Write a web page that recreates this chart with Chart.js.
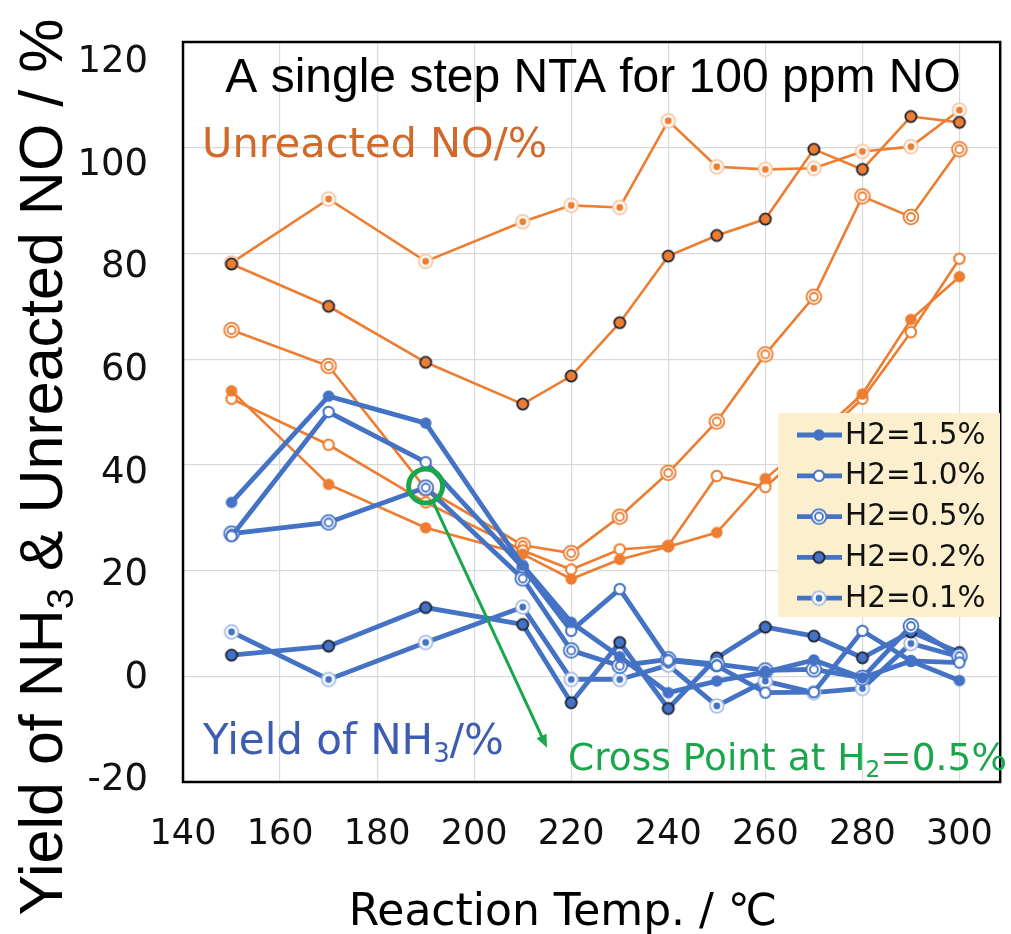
<!DOCTYPE html>
<html>
<head>
<meta charset="utf-8">
<script src="https://cdn.jsdelivr.net/npm/chart.js@4/dist/chart.umd.min.js"></script>
<style>
  body { margin: 0; background: #fff; }
  #wrap { width: 1011px; height: 934px; }
</style>
</head>
<body>
<div id="wrap"><canvas id="nta" width="1011" height="934"></canvas></div>
<script>
// reaction temperature (°C)
const temps = [150, 170, 190, 210, 220, 230, 240, 250, 260, 270, 280, 290, 300];

// yield of NH3 (%)
const nh15 = [32.9, 53.0, 47.9, 21.0, 10.2, 3.7, -3.1, -0.9, 0.8, 3.1, -0.3, 2.9, -0.8];
const nh10 = [26.5, 50.0, 40.5, 20.6, 8.6, 16.5, 3.0, 2.0, -3.1, -3.0, 8.6, 2.9, 2.6];
const nh05 = [27.0, 29.1, 35.7, 18.5, 4.9, 2.0, 3.2, 2.3, 1.1, 1.3, -0.3, 9.5, 3.8];
const nh02 = [4.0, 5.7, 13.0, 9.8, -5.0, 6.4, -6.1, 3.5, 9.3, 7.6, 3.5, 8.4, 4.5];
const nh01 = [8.4, -0.6, 6.4, 13.1, -0.6, -0.6, 2.1, -5.6, -0.9, -3.1, -2.3, 6.2, 3.7];

// unreacted NO (%)
const no15 = [54.0, 36.3, 28.1, 23.1, 18.4, 22.1, 24.5, 27.2, 37.4, 45.0, 53.4, 67.5, 75.6];
const no10 = [52.5, 43.8, 32.9, 23.8, 20.2, 24.0, 24.7, 37.9, 35.8, 44.0, 52.5, 65.1, 79.0];
const no05 = [65.5, 58.7, 35.5, 24.8, 23.3, 30.2, 38.5, 48.2, 60.9, 71.8, 90.8, 86.9, 99.7];
const no02 = [78.0, 70.0, 59.4, 51.5, 56.8, 66.9, 79.5, 83.4, 86.5, 99.7, 95.9, 105.9, 104.8];
const no01 = [78.2, 90.3, 78.5, 86.0, 89.1, 88.7, 105.1, 96.4, 95.9, 96.1, 99.3, 100.2, 107.1];

const seriesLabels = ['H2=1.5%', 'H2=1.0%', 'H2=0.5%', 'H2=0.2%', 'H2=0.1%'];
const markerKinds = ['filled', 'open', 'double', 'dark', 'dot'];

// cross point annotation (temp, value) and arrow tip
const crossPoint = [190, 36];
const arrowTip = [215, -13.5];

const BLUE = '#4472c4';
const BLUE_LIGHT = '#a9bde6';
const ORANGE = '#ed7d31';
const ORANGE_LIGHT = '#f7c7a3';
const GREEN = '#1aa64a';

function makeMarker(kind, color, light) {
  const c = document.createElement('canvas');
  c.width = c.height = 20;
  const g = c.getContext('2d');
  g.translate(10, 10);
  const circle = (r, fill, stroke, lw) => {
    g.beginPath();
    g.arc(0, 0, r, 0, Math.PI * 2);
    if (fill) { g.fillStyle = fill; g.fill(); }
    if (stroke) { g.lineWidth = lw; g.strokeStyle = stroke; g.stroke(); }
  };
  if (kind === 'filled') circle(5.8, color);
  else if (kind === 'open') circle(5.2, '#fff', color, 2);
  else if (kind === 'double') { circle(7.4, '#fff', color, 1.8); circle(4, '#fff', color, 1.8); }
  else if (kind === 'dark') circle(5.6, color, '#1c2233', 1.8);
  else if (kind === 'dot') { circle(6.8, '#fff', light, 1.8); circle(3.4, color); }
  return c;
}

const blueMarkers = markerKinds.map(k => makeMarker(k, BLUE, BLUE_LIGHT));
const orangeMarkers = markerKinds.map(k => makeMarker(k, ORANGE, ORANGE_LIGHT));

const toPoints = vals => vals.map((v, i) => ({ x: temps[i], y: v }));

const nhSeries = [nh15, nh10, nh05, nh02, nh01];
const noSeries = [no15, no10, no05, no02, no01];

// blue first so it sits on top of the orange lines
const datasets = [];
nhSeries.forEach((vals, i) => datasets.push({
  label: seriesLabels[i],
  data: toPoints(vals),
  borderColor: BLUE,
  borderWidth: 4.8,
  pointStyle: blueMarkers[i],
  pointRadius: 6,
  tension: 0
}));
noSeries.forEach((vals, i) => datasets.push({
  label: 'NO ' + seriesLabels[i],
  data: toPoints(vals),
  borderColor: ORANGE,
  borderWidth: 2.6,
  pointStyle: orangeMarkers[i],
  pointRadius: 6,
  tension: 0
}));

function drawRich(ctx, parts, x, y, size, family, color, align) {
  ctx.save();
  ctx.fillStyle = color;
  ctx.textBaseline = 'alphabetic';
  ctx.textAlign = 'left';
  const widths = parts.map(([t, sub]) => {
    ctx.font = (sub ? size * 0.62 : size) + 'px ' + family;
    return ctx.measureText(t).width;
  });
  const total = widths.reduce((a, b) => a + b, 0);
  let cx = align === 'center' ? x - total / 2 : x;
  parts.forEach(([t, sub], i) => {
    ctx.font = (sub ? size * 0.62 : size) + 'px ' + family;
    ctx.fillText(t, cx, sub ? y + size * 0.18 : y);
    cx += widths[i];
  });
  ctx.restore();
}

const decorPlugin = {
  id: 'decor',
  afterDatasetsDraw(chart) {
    const { ctx, chartArea: a, scales: { x, y } } = chart;

    // frame
    ctx.save();
    ctx.strokeStyle = '#000';
    ctx.lineWidth = 2.5;
    ctx.strokeRect(a.left, a.top, a.right - a.left, a.bottom - a.top);
    ctx.restore();

    // cross point ring and arrow
    const px = x.getPixelForValue(crossPoint[0]);
    const py = y.getPixelForValue(crossPoint[1]);
    const tx = x.getPixelForValue(arrowTip[0]);
    const ty = y.getPixelForValue(arrowTip[1]);
    ctx.save();
    ctx.strokeStyle = GREEN;
    ctx.fillStyle = GREEN;
    ctx.lineWidth = 5;
    ctx.beginPath();
    ctx.arc(px, py, 17, 0, Math.PI * 2);
    ctx.stroke();
    const ang = Math.atan2(ty - py, tx - px);
    const sx = px + Math.cos(ang) * 19, sy = py + Math.sin(ang) * 19;
    ctx.lineWidth = 3;
    ctx.beginPath();
    ctx.moveTo(sx, sy);
    ctx.lineTo(tx - Math.cos(ang) * 10, ty - Math.sin(ang) * 10);
    ctx.stroke();
    ctx.beginPath();
    ctx.moveTo(tx, ty);
    ctx.lineTo(tx - Math.cos(ang - 0.4) * 14, ty - Math.sin(ang - 0.4) * 14);
    ctx.lineTo(tx - Math.cos(ang + 0.4) * 14, ty - Math.sin(ang + 0.4) * 14);
    ctx.closePath();
    ctx.fill();
    ctx.restore();

    // legend box
    const lx = 778, ly = 413, lw = 222, lh = 204;
    ctx.save();
    ctx.fillStyle = '#fcefcd';
    ctx.fillRect(lx, ly, lw, lh);
    seriesLabels.forEach((lab, i) => {
      const rowY = 435 + i * 40.8;
      ctx.strokeStyle = BLUE;
      ctx.lineWidth = 4.8;
      ctx.beginPath();
      ctx.moveTo(797, rowY);
      ctx.lineTo(842, rowY);
      ctx.stroke();
      ctx.drawImage(blueMarkers[i], 819 - 10, rowY - 10);
      ctx.fillStyle = '#111';
      ctx.font = '29.5px "DejaVu Sans"';
      ctx.textBaseline = 'middle';
      ctx.fillText(lab, 845, rowY + 1);
    });
    ctx.restore();

    // texts inside plot
    ctx.save();
    ctx.fillStyle = '#000';
    ctx.font = '48px "Liberation Sans"';
    ctx.textAlign = 'center';
    ctx.fillText('A single step NTA for 100 ppm NO', 593, 92);
    ctx.restore();

    drawRich(ctx, [['Unreacted NO/%', false]], 202, 157, 41.5, '"DejaVu Sans"', '#d0692a', 'left');
    drawRich(ctx, [['Yield of NH', false], ['3', true], ['/%', false]], 203, 754, 42, '"DejaVu Sans"', '#3c5db0', 'left');
    drawRich(ctx, [['Cross Point at H', false], ['2', true], ['=0.5%', false]], 568, 770, 37.5, '"DejaVu Sans"', GREEN, 'left');

    // axis titles
    drawRich(ctx, [['Reaction Temp. / \u2103', false]], 563, 925, 44, '"DejaVu Sans"', '#000', 'center');
    ctx.save();
    ctx.translate(62, 467);
    ctx.rotate(-Math.PI / 2);
    drawRich(ctx, [['Yield of NH', false], ['3', true], [' & Unreacted NO / %', false]], 0, 0, 61, '"Liberation Sans"', '#000', 'center');
    ctx.restore();
  }
};

new Chart(document.getElementById('nta'), {
  type: 'line',
  data: { datasets },
  options: {
    responsive: false,
    animation: false,
    layout: { padding: { top: 42, right: 9, left: 0, bottom: 0 } },
    plugins: {
      legend: { display: false },
      tooltip: { enabled: false }
    },
    scales: {
      x: {
        type: 'linear',
        min: 140,
        max: 308.4,
        afterFit(scale) {
          scale.height = 152;
          scale.paddingLeft = 0;
          scale.paddingRight = 0;
        },
        grid: { color: '#d9d9d9', lineWidth: 1.2, drawTicks: false },
        border: { display: false },
        ticks: {
          stepSize: 20,
          includeBounds: false,
          padding: 32,
          color: '#111',
          font: { family: 'DejaVu Sans', size: 35 }
        }
      },
      y: {
        min: -20,
        max: 120,
        afterFit(scale) {
          scale.width = 0;
          scale.paddingTop = 0;
          scale.paddingBottom = 0;
        },
        grid: { color: '#d9d9d9', lineWidth: 1.2, drawTicks: false },
        border: { display: false },
        ticks: { stepSize: 20, display: false }
      },
      // the printed tick labels sit on a slightly tighter pitch than the grid
      yLabels: {
        position: 'left',
        min: -20.25,
        max: 124,
        afterFit(scale) {
          scale.width = 183;
          scale.paddingTop = 0;
          scale.paddingBottom = 0;
        },
        grid: { display: false, drawTicks: false },
        border: { display: false },
        ticks: {
          stepSize: 20,
          includeBounds: false,
          padding: 35,
          color: '#111',
          font: { family: 'DejaVu Sans', size: 37 }
        }
      }
    }
  },
  plugins: [decorPlugin]
});
</script>
</body>
</html>
